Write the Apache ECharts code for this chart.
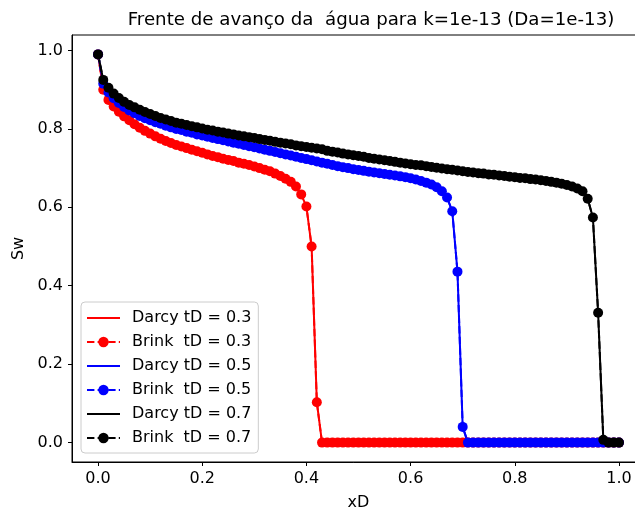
<!DOCTYPE html>
<html>
<head>
<meta charset="utf-8">
<script src="https://cdn.jsdelivr.net/npm/echarts@6/dist/echarts.min.js"></script>
<style>
html,body{margin:0;padding:0;background:#fff;}
#chart{width:635px;height:511px;}
</style>
</head>
<body>
<div id="chart"></div>
<script>
// xD positions (step 0.01)
const xD = [];
for (let i = 0; i <= 100; i++) xD.push(+(i / 100).toFixed(2));

const tickValues = [0.0, 0.2, 0.4, 0.6, 0.8, 1.0];

// Sw for tD = 0.3 (red)
const sw03 = [
  0.990, 0.900, 0.874, 0.857, 0.844, 0.832, 0.822, 0.812, 0.803, 0.795,
  0.788, 0.781, 0.775, 0.769, 0.764, 0.759, 0.755, 0.751, 0.747, 0.743,
  0.739, 0.735, 0.731, 0.728, 0.724, 0.721, 0.718, 0.714, 0.711, 0.708,
  0.704, 0.700, 0.696, 0.692, 0.686, 0.680, 0.673, 0.665, 0.653, 0.633,
  0.602, 0.500, 0.103, 0, 0, 0, 0, 0, 0, 0,
  0, 0, 0, 0, 0, 0, 0, 0, 0, 0,
  0, 0, 0, 0, 0, 0, 0, 0, 0, 0,
  0, 0, 0, 0, 0, 0, 0, 0, 0, 0,
  0, 0, 0, 0, 0, 0, 0, 0, 0, 0,
  0, 0, 0, 0, 0, 0, 0, 0, 0, 0,
  0
];

// Sw for tD = 0.5 (blue)
const sw05 = [
  0.990, 0.915, 0.893, 0.878, 0.866, 0.856, 0.847, 0.840, 0.833, 0.827,
  0.822, 0.817, 0.813, 0.808, 0.804, 0.800, 0.797, 0.793, 0.790, 0.786,
  0.783, 0.780, 0.777, 0.774, 0.771, 0.768, 0.765, 0.762, 0.759, 0.756,
  0.753, 0.750, 0.747, 0.744, 0.741, 0.738, 0.735, 0.732, 0.729, 0.726,
  0.723, 0.720, 0.717, 0.714, 0.711, 0.708, 0.705, 0.702, 0.700, 0.697,
  0.695, 0.693, 0.691, 0.689, 0.687, 0.685, 0.683, 0.681, 0.679, 0.677,
  0.674, 0.671, 0.667, 0.663, 0.658, 0.651, 0.641, 0.625, 0.590, 0.436,
  0.040, 0, 0, 0, 0, 0, 0, 0, 0, 0,
  0, 0, 0, 0, 0, 0, 0, 0, 0, 0,
  0, 0, 0, 0, 0, 0, 0, 0, 0, 0,
  0
];

// Sw for tD = 0.7 (black)
const sw07 = [
  0.990, 0.925, 0.905, 0.890, 0.879, 0.869, 0.861, 0.855, 0.849, 0.843,
  0.838, 0.833, 0.828, 0.824, 0.820, 0.816, 0.813, 0.810, 0.807, 0.804,
  0.801, 0.798, 0.796, 0.793, 0.791, 0.788, 0.786, 0.783, 0.781, 0.779,
  0.777, 0.774, 0.772, 0.770, 0.767, 0.765, 0.763, 0.761, 0.758, 0.756,
  0.754, 0.752, 0.750, 0.748, 0.744, 0.742, 0.740, 0.737, 0.735, 0.733,
  0.731, 0.729, 0.726, 0.724, 0.722, 0.720, 0.718, 0.716, 0.714, 0.712,
  0.710, 0.708, 0.707, 0.705, 0.703, 0.701, 0.699, 0.697, 0.696, 0.694,
  0.692, 0.690, 0.689, 0.687, 0.686, 0.684, 0.683, 0.681, 0.680, 0.678,
  0.677, 0.675, 0.674, 0.672, 0.671, 0.669, 0.667, 0.665, 0.663, 0.660,
  0.657, 0.653, 0.648, 0.641, 0.622, 0.574, 0.331, 0.007, 0, 0,
  0
];

const seriesNames = ['Darcy tD = 0.3', 'Brink  tD = 0.3', 'Darcy tD = 0.5', 'Brink  tD = 0.5', 'Darcy tD = 0.7', 'Brink  tD = 0.7'];
const seriesColors = ['#ff0000', '#ff0000', '#0000ff', '#0000ff', '#000000', '#000000'];
const seriesValues = [sw03, sw03, sw05, sw05, sw07, sw07];

const FONT = 'DejaVu Sans';

function pairs(ys) { return xD.map((x, i) => [x, ys[i]]); }

const series = seriesNames.map((name, k) => {
  const brink = k % 2 === 1;
  return {
    name: name,
    type: 'line',
    data: pairs(seriesValues[k]),
    symbol: brink ? 'circle' : 'none',
    showSymbol: brink,
    symbolSize: 10,
    animation: false,
    color: seriesColors[k],
    itemStyle: { color: seriesColors[k], borderWidth: 0 },
    lineStyle: { color: seriesColors[k], width: 2, type: brink ? [7.4, 3.2] : 'solid' },
    emphasis: { disabled: true },
    clip: true
  };
});

const legendData = seriesNames.map((name, k) => (k % 2 === 0)
  ? { name: name, itemStyle: { opacity: 0, color: 'rgba(0,0,0,0)', borderWidth: 0 } }
  : { name: name });

const tickCommon = { show: true, inside: false, length: 4, lineStyle: { color: '#000', width: 1 }, customValues: tickValues };
const labelCommon = { fontFamily: FONT, fontSize: 16, color: '#000', margin: 9, customValues: tickValues, formatter: v => v.toFixed(1) };

const chart = echarts.init(document.getElementById('chart'), null, { renderer: 'canvas' });
chart.setOption({
  backgroundColor: '#ffffff',
  animation: false,
  textStyle: { fontFamily: FONT },
  title: {
    text: 'Frente de avanço da  água para k=1e-13 (Da=1e-13)',
    left: 366,
    textAlign: 'center',
    top: 6,
    textStyle: { fontFamily: FONT, fontSize: 18.2, fontWeight: 'normal', color: '#000' }
  },
  grid: {
    left: 72, top: 35, width: 573, height: 427,
    show: true, borderColor: '#000', borderWidth: 1, backgroundColor: 'transparent',
    outerBoundsMode: 'none', containLabel: false
  },
  legend: {
    orient: 'vertical',
    left: 81, top: 302,
    padding: [8, 7, 7, 5],
    itemWidth: 33, itemHeight: 13, itemGap: 8,
    backgroundColor: 'rgba(255,255,255,0.8)',
    borderColor: '#cccccc', borderWidth: 1, borderRadius: 4,
    textStyle: { fontFamily: FONT, fontSize: 16, color: '#000', lineHeight: 16, padding: [0, 0, 0, 7] },
    data: legendData,
    selectedMode: false
  },
  xAxis: [{
    type: 'value', min: -0.05, max: 1.05,
    name: 'xD', nameLocation: 'middle', nameGap: 33,
    nameTextStyle: { fontFamily: FONT, fontSize: 16, color: '#000' },
    axisLine: { show: true, onZero: false, lineStyle: { color: '#000', width: 1 } },
    splitLine: { show: false },
    axisTick: tickCommon,
    axisLabel: labelCommon
  }],
  yAxis: [{
    type: 'value', min: -0.0495, max: 1.0395,
    name: 'Sw', nameLocation: 'middle', nameGap: 44, nameRotate: 90,
    nameTextStyle: { fontFamily: FONT, fontSize: 16, color: '#000' },
    axisLine: { show: true, onZero: false, lineStyle: { color: '#000', width: 1 } },
    splitLine: { show: false },
    axisTick: tickCommon,
    axisLabel: labelCommon
  }],
  series: series
});
</script>
</body>
</html>
